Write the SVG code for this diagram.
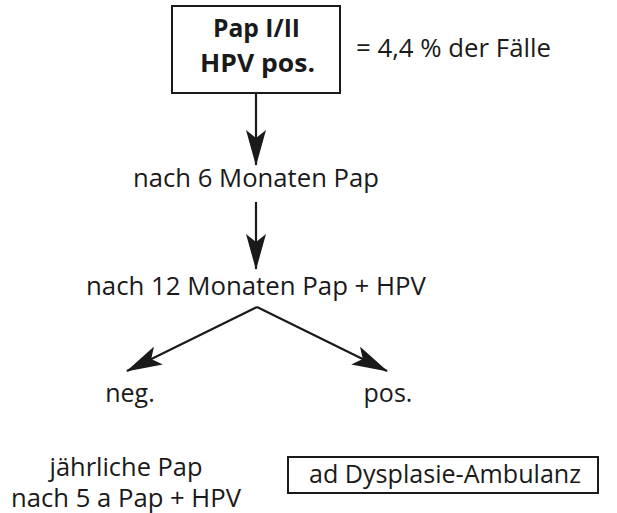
<svg xmlns="http://www.w3.org/2000/svg" width="617" height="513" viewBox="0 0 617 513">
  <defs>
    <marker id="ah" viewBox="0 0 36 20" refX="35" refY="10" markerWidth="36" markerHeight="20" markerUnits="userSpaceOnUse" orient="auto">
      <path d="M0,0 L36,10 L0,20 L8,10 Z" fill="#1a1a1a"/>
    </marker>
    <style>
      .t { font-family: "Open Sans", "Noto Sans", sans-serif; font-size: 25px; fill: #1a1a1a; }
      .b { font-family: "Open Sans", "Noto Sans", sans-serif; font-size: 25px; font-weight: bold; fill: #1a1a1a; }
      .box { fill: #ffffff; stroke: #1a1a1a; stroke-width: 2; }
      .c { fill: none; stroke: #1a1a1a; stroke-width: 2.2; marker-end: url(#ah); }
    </style>
  </defs>
  <rect width="617" height="513" fill="#ffffff"/>

  <g id="start">
    <rect class="box" x="172" y="6" width="168" height="87"/>
    <text class="b" x="256.5" y="37" text-anchor="middle" textLength="87" lengthAdjust="spacingAndGlyphs">Pap I/II</text>
    <text class="b" x="257.5" y="72" text-anchor="middle" textLength="115" lengthAdjust="spacingAndGlyphs">HPV pos.</text>
  </g>

  <g id="note">
    <text class="t" x="356" y="57" textLength="195" lengthAdjust="spacingAndGlyphs">= 4,4 % der Fälle</text>
  </g>

  <g id="step6">
    <text class="t" x="256" y="187" text-anchor="middle" textLength="246" lengthAdjust="spacingAndGlyphs">nach 6 Monaten Pap</text>
  </g>

  <g id="step12">
    <text class="t" x="256" y="295" text-anchor="middle" textLength="340" lengthAdjust="spacingAndGlyphs">nach 12 Monaten Pap + HPV</text>
  </g>

  <g id="neg">
    <text class="t" x="130" y="402" text-anchor="middle">neg.</text>
  </g>

  <g id="pos">
    <text class="t" x="388" y="402" text-anchor="middle">pos.</text>
  </g>

  <g id="negResult">
    <text class="t" x="126" y="476" text-anchor="middle" textLength="153" lengthAdjust="spacingAndGlyphs">jährliche Pap</text>
    <text class="t" x="126" y="507" text-anchor="middle" textLength="230" lengthAdjust="spacingAndGlyphs">nach 5 a Pap + HPV</text>
  </g>

  <g id="posResult">
    <rect class="box" x="288" y="457" width="310" height="36"/>
    <text class="t" x="445" y="483" text-anchor="middle" textLength="272" lengthAdjust="spacingAndGlyphs">ad Dysplasie-Ambulanz</text>
  </g>

  <g id="connectors">
    <line class="c" x1="256" y1="93" x2="256" y2="165"/>
    <line class="c" x1="256" y1="202" x2="256" y2="269"/>
    <polyline class="c" points="257,307 127,371"/>
    <polyline class="c" points="257,307 387,371"/>
  </g>
</svg>
